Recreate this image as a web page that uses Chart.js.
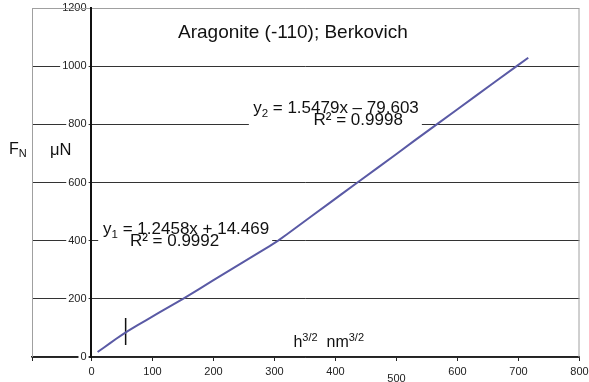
<!DOCTYPE html>
<html>
<head>
<meta charset="utf-8">
<script src="https://cdn.jsdelivr.net/npm/chart.js@4"></script>
<style>
  html, body { margin: 0; padding: 0; background: #fff; }
  #wrap { width: 589px; height: 382px; }
</style>
</head>
<body>
<div id="wrap"><canvas id="fig" width="589" height="382"></canvas></div>
<script>
// h^3/2 (nm^3/2) vs F_N (uN)
const hx = [10, 20, 30, 40, 50, 60, 75, 90, 110, 130, 150, 175, 200, 225, 250, 275, 292, 306, 320, 340, 360, 390, 410, 436, 470, 500, 530, 566, 600, 630, 660, 697, 716];
const fn = [17, 32, 47, 62, 76, 90, 109, 127, 152, 176, 200, 232, 264, 296, 328, 360, 381, 400, 421, 452, 483, 529, 560, 600, 652, 698, 745, 800, 852, 898, 944, 1000, 1029];

// vertical marker where the first fit starts
const markX = [56, 56];
const markY = [41, 134];

const xTicks = [0, 100, 200, 300, 400, 500, 600, 700, 800];
const yTicks = [0, 200, 400, 600, 800, 1000, 1200];

const FONT = '"Liberation Sans", Arial, sans-serif';

function pts(xs, ys) {
    return xs.map((x, i) => ({ x: x, y: ys[i] }));
}

// draws a run of text pieces: [text, size, dy]
function runText(ctx, x, y, parts) {
    parts.forEach(p => {
        ctx.font = p[1] + 'px ' + FONT;
        ctx.fillText(p[0], x, y + (p[2] || 0));
        x += ctx.measureText(p[0]).width;
    });
}

const notes = {
    id: 'notes',
    beforeDatasetsDraw(chart) {
        const { ctx, chartArea: a } = chart;
        const sx = chart.scales.x, sy = chart.scales.y;
        const px = v => sx.getPixelForValue(v);
        const py = v => sy.getPixelForValue(v);
        ctx.save();

        // light frame round the plot
        ctx.strokeStyle = '#a0a0a0';
        ctx.lineWidth = 1;
        ctx.beginPath();
        ctx.moveTo(a.left + 0.5, a.bottom);
        ctx.lineTo(a.left + 0.5, a.top + 0.5);
        ctx.lineTo(a.right - 0.5, a.top + 0.5);
        ctx.lineTo(a.right - 0.5, a.bottom);
        ctx.stroke();

        // white boxes behind the fit equations
        ctx.fillStyle = '#fff';
        ctx.fillRect(px(11), py(475), 174, 33);
        ctx.fillRect(px(258), py(888), 173, 32);

        ctx.fillStyle = '#111';
        ctx.textAlign = 'left';
        ctx.textBaseline = 'alphabetic';

        runText(ctx, px(19), py(423), [['y', 17], ['1', 11.5, 4], [' = 1.2458x + 14.469', 17]]);
        runText(ctx, px(63), py(380), [['R² = 0.9992', 17]]);
        runText(ctx, px(265), py(839), [['y', 17], ['2', 11.5, 4], [' = 1.5479x \u2013 79.603', 17]]);
        runText(ctx, px(364), py(797), [['R² = 0.9998', 17]]);

        // axis names
        runText(ctx, px(331), py(36), [['h', 16], ['3/2', 11, -6], ['  nm', 16], ['3/2', 11, -6]]);
        runText(ctx, 9, py(698), [['F', 16], ['N', 11, 3]]);
        runText(ctx, 50, py(693), [['\u03bcN', 16.5]]);

        // title
        ctx.font = '19px ' + FONT;
        ctx.fillText('Aragonite (-110); Berkovich', 178, 37.5);
        ctx.restore();
    }
};

new Chart(document.getElementById('fig'), {
    type: 'line',
    data: {
        datasets: [{
            data: pts(hx, fn),
            borderColor: '#5a5aa5',
            borderWidth: 2,
            pointRadius: 0,
            tension: 0
        }, {
            data: pts(markX, markY),
            borderColor: '#111',
            borderWidth: 1.5,
            pointRadius: 0
        }]
    },
    options: {
        responsive: false,
        animation: false,
        devicePixelRatio: 1,
        layout: { padding: { left: 32, top: 8, right: 9.5, bottom: 0 } },
        plugins: {
            legend: { display: false },
            tooltip: { enabled: false }
        },
        scales: {
            x: {
                type: 'linear',
                min: -97.5,
                max: 800,
                afterBuildTicks: s => { s.ticks = [-97.5].concat(xTicks).map(v => ({ value: v })); },
                afterFit: s => { s.height = 25; s.paddingLeft = 0; s.paddingRight = 0; },
                grid: { drawOnChartArea: false, drawTicks: true, tickLength: 4, color: '#222' },
                border: { color: '#222', width: 1.5 },
                ticks: {
                    padding: 4,
                    color: '#222',
                    maxRotation: 0,
                    autoSkip: false,
                    callback: v => v < 0 ? '' : String(v),
                    font: ctx => ({ family: FONT, size: 11, lineHeight: ctx.tick && ctx.tick.value === 500 ? 2.5 : 1.2 })
                }
            },
            // labels and grid, set a little left of x = 0 so the labels clear the axis
            y: {
                min: 0,
                max: 1200,
                position: { x: -8 },
                afterBuildTicks: s => { s.ticks = yTicks.map(v => ({ value: v })); },
                afterFit: s => { s.paddingTop = 0; s.paddingBottom = 0; },
                grid: {
                    drawTicks: false,
                    color: ctx => ctx.tick && ctx.tick.value === 1200 ? '#a0a0a0' : '#333',
                    lineWidth: 1
                },
                border: { display: false },
                ticks: {
                    color: '#222',
                    font: { family: FONT, size: 11 },
                    callback: v => String(v),
                    showLabelBackdrop: true,
                    backdropColor: '#fff',
                    backdropPadding: { x: 2, y: 0 }
                }
            },
            // the axis line itself at x = 0
            yAxis: {
                axis: 'y',
                min: 0,
                max: 1200,
                position: { x: 0 },
                afterFit: s => { s.paddingTop = 0; s.paddingBottom = 0; },
                grid: { display: false },
                ticks: { display: false },
                border: { color: '#111', width: 2, z: 1 }
            }
        }
    },
    plugins: [notes]
});
</script>
</body>
</html>
